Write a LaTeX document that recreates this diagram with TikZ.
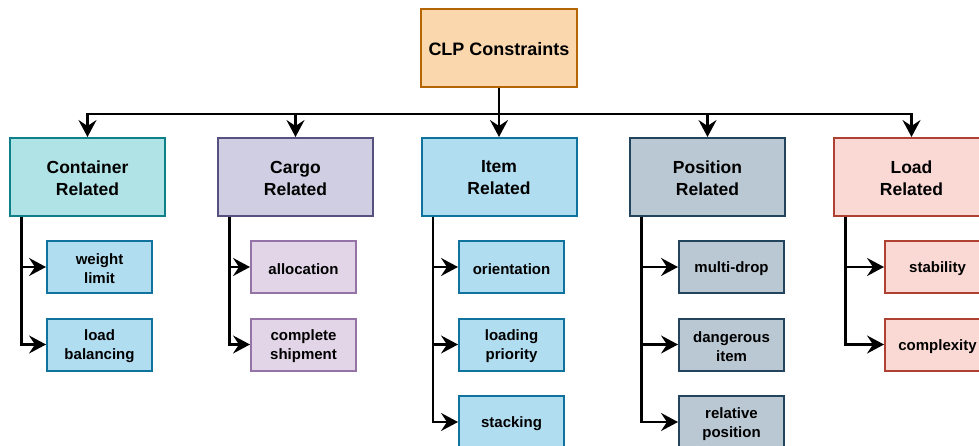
\documentclass[tikz,border=0pt]{standalone}
\usepackage{fontspec}
\setmainfont{Liberation Sans}
\usetikzlibrary{arrows.meta,calc}
\definecolor{clpF}{HTML}{FAD7AC}\definecolor{clpD}{HTML}{B46504}
\definecolor{conF}{HTML}{B0E3E6}\definecolor{conD}{HTML}{0E8088}
\definecolor{carF}{HTML}{D0CEE2}\definecolor{carD}{HTML}{56517E}
\definecolor{carLF}{HTML}{E1D5E7}\definecolor{carLD}{HTML}{9673A6}
\definecolor{itmF}{HTML}{B1DDF0}\definecolor{itmD}{HTML}{10739E}
\definecolor{posF}{HTML}{BAC8D3}\definecolor{posD}{HTML}{23445D}
\definecolor{lodF}{HTML}{FAD9D5}\definecolor{lodD}{HTML}{AE4132}
\begin{document}
\begin{tikzpicture}[x=1pt,y=-1pt,
  box/.style={draw, line width=2pt, inner sep=0pt},
  bigtxt/.style={label={[align=center, text=black, yshift=-1pt, font=\bfseries\fontsize{17.5}{22}\selectfont]center:{#1}}},
  smalltxt/.style={label={[align=center, text=black, yshift=-2pt, font=\bfseries\fontsize{15}{19}\selectfont]center:{#1}}},
  lvlone/.style={box, minimum width=155pt, minimum height=78pt, bigtxt={#1}},
  leaf/.style={box, minimum width=105pt, minimum height=52pt, smalltxt={#1}},
  clpS/.style={fill=clpF, draw=clpD},
  conS/.style={fill=conF, draw=conD},
  carS/.style={fill=carF, draw=carD},
  carL/.style={fill=carLF, draw=carLD},
  itmS/.style={fill=itmF, draw=itmD},
  posS/.style={fill=posF, draw=posD},
  lodS/.style={fill=lodF, draw=lodD},
  conn/.style={line width=2.5pt, -{Stealth[length=17pt,width=18pt,inset=6pt]}}]
\useasboundingbox (0,0) rectangle (979,446);
\clip (0,0) rectangle (979,446);
% root
\node[box, clpS, minimum width=156pt, minimum height=78pt,
  label={[text=black, yshift=-1pt, font=\bfseries\fontsize{18}{22}\selectfont]center:CLP Constraints}] (clp) at (499,48) {};
% level one
\node[lvlone={Container\\Related}, conS] (con) at (87.5,177) {};
\node[lvlone={Cargo\\Related}, carS] (car) at (295.5,177) {};
\node[lvlone={Item\\Related}, itmS] (itm) at (499,177) {};
\node[lvlone={Position\\Related}, posS] (pos) at (707.5,177) {};
\node[lvlone={Load\\Related}, lodS] (lod) at (911.5,177) {};
% leaves
\node[leaf={weight\\limit}, itmS] (wl) at (99.5,267) {};
\node[leaf={load\\balancing}, itmS] (lb) at (99.5,344.5) {};
\node[leaf={allocation}, carL] (al) at (303.5,267) {};
\node[leaf={complete\\shipment}, carL] (cs) at (303.5,344.5) {};
\node[leaf={orientation}, itmS] (or) at (511.5,267) {};
\node[leaf={loading\\priority}, itmS] (lp) at (511.5,344.5) {};
\node[leaf={stacking}, itmS] (st) at (511.5,422) {};
\node[leaf={multi-drop}, posS] (md) at (731.5,267) {};
\node[leaf={dangerous\\item}, posS] (di) at (731.5,344.5) {};
\node[leaf={relative\\position}, posS] (rp) at (731.5,422) {};
\node[leaf={stability}, lodS] (sb) at (937.5,267) {};
\node[leaf={complexity}, lodS] (cx) at (937.5,344.5) {};
% root connectors
\foreach \t in {con,car,itm,pos,lod}
  \draw[conn] (clp.south) -- ++(0,26) -| (\t.north);
% leaf connectors
\foreach \p/\c in {con/wl,con/lb,car/al,car/cs,itm/or,itm/lp,itm/st,pos/md,pos/di,pos/rp,lod/sb,lod/cx}
  \draw[conn] ($(\p.south west)+(12.5,0)$) |- (\c.west);
\end{tikzpicture}
\end{document}
